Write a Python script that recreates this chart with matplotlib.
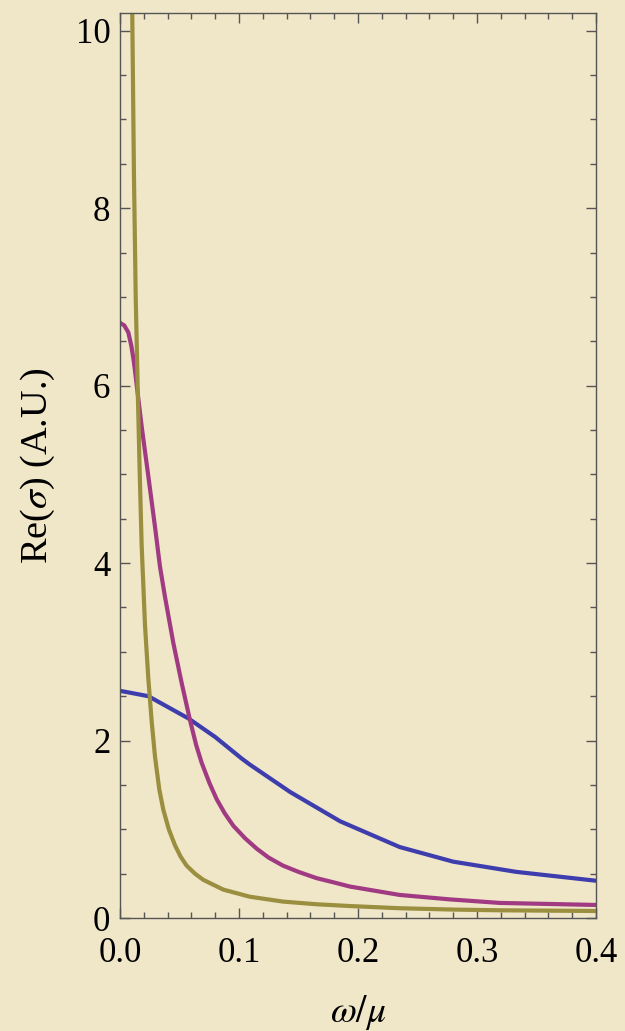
import matplotlib
matplotlib.use("Agg")
import matplotlib.pyplot as plt
from matplotlib.ticker import MultipleLocator

# ---- data ----
omega_blue = [0.0, 0.0042, 0.0238, 0.0574, 0.080, 0.102, 0.109, 0.143, 0.171, 0.185,
              0.235, 0.280, 0.333, 0.400]
sigma_blue = [2.56, 2.55, 2.50, 2.25, 2.04, 1.80, 1.73, 1.42, 1.20, 1.09,
              0.80, 0.635, 0.52, 0.42]

omega_purple = [0.0, 0.0008, 0.0035, 0.007, 0.0095, 0.0112, 0.0125, 0.014, 0.0182, 0.0238,
                0.0294, 0.0336, 0.0378, 0.0448, 0.0518, 0.0588, 0.064, 0.0686, 0.0752, 0.0812,
                0.088, 0.0952, 0.105, 0.115, 0.125, 0.137, 0.150, 0.165, 0.180, 0.193,
                0.235, 0.277, 0.319, 0.400]
sigma_purple = [6.71, 6.70, 6.68, 6.60, 6.45, 6.31, 6.18, 6.01, 5.54, 4.98,
                4.41, 3.96, 3.62, 3.10, 2.65, 2.23, 1.95, 1.75, 1.52, 1.34,
                1.18, 1.04, 0.90, 0.78, 0.68, 0.59, 0.52, 0.45, 0.40, 0.355,
                0.26, 0.21, 0.17, 0.147]

omega_olive = [0.0096, 0.0103, 0.0117, 0.0132, 0.0149, 0.0166, 0.0182, 0.021, 0.0238, 0.0266,
               0.0294, 0.033, 0.0364, 0.041, 0.0462, 0.051, 0.056, 0.063, 0.070, 0.0868,
               0.109, 0.137, 0.165, 0.193, 0.235, 0.280, 0.319, 0.400]
sigma_olive = [11.0, 10.2, 8.4, 7.0, 5.95, 5.0, 4.2, 3.3, 2.7, 2.22,
               1.82, 1.45, 1.22, 1.0, 0.82, 0.69, 0.59, 0.50, 0.43, 0.32,
               0.24, 0.185, 0.155, 0.135, 0.11, 0.095, 0.087, 0.079]

x_ticks = [0.0, 0.1, 0.2, 0.3, 0.4]
x_ticklabels = ["0.0", "0.1", "0.2", "0.3", "0.4"]
y_ticks = [0, 2, 4, 6, 8, 10]
y_ticklabels = ["0", "2", "4", "6", "8", "10"]

BG = "#F0E6C8"
plt.rcParams["font.family"] = ["Liberation Serif", "DejaVu Serif"]
plt.rcParams["mathtext.fontset"] = "stix"

fig = plt.figure(figsize=(6.25, 10.31), dpi=100, facecolor=BG)
ax = fig.add_axes([0.192, 0.1096, 0.7616, 0.8778])
ax.set_facecolor(BG)

lw = 3.0
ax.plot(omega_blue, sigma_blue, color="#3D3DAD", lw=lw, solid_joinstyle="round")
ax.plot(omega_purple, sigma_purple, color="#A03A82", lw=lw, solid_joinstyle="round")
ax.plot(omega_olive, sigma_olive, color="#9A8E3F", lw=lw, solid_joinstyle="round")

ax.set_xlim(0, 0.4)
ax.set_ylim(0, 10.2)
ax.set_xticks(x_ticks)
ax.set_xticklabels(x_ticklabels)
ax.set_yticks(y_ticks)
ax.set_yticklabels(y_ticklabels)
ax.xaxis.set_minor_locator(MultipleLocator(0.02))
ax.yaxis.set_minor_locator(MultipleLocator(0.5))

spine_c = "#555555"
for s in ax.spines.values():
    s.set_color(spine_c)
    s.set_linewidth(1.0)

ax.tick_params(which="both", direction="in", top=True, right=True, color=spine_c, width=1.0)
ax.tick_params(which="major", length=7)
ax.tick_params(which="minor", length=4)
ax.tick_params(axis="x", which="major", labelsize=25, pad=14)
ax.tick_params(axis="y", which="major", labelsize=25, pad=7)

ax.set_xlabel(r"$\omega/\mu$", fontsize=27, labelpad=16)
ax.set_ylabel(r"Re($\sigma$) (A.U.)", fontsize=27.5, labelpad=13)

fig.savefig("out.png", dpi=100, facecolor=BG)
